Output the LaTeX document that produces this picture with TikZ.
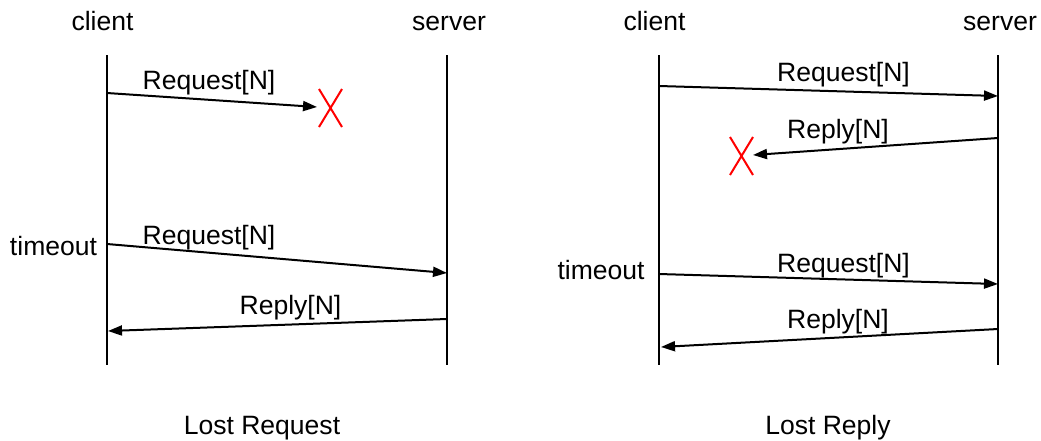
\documentclass[tikz,border=0pt]{standalone}
\usepackage{fontspec}
\setmainfont{Liberation Sans}
\usetikzlibrary{arrows.meta}
\begin{document}
\begin{tikzpicture}[x=0.75pt,y=-0.75pt,
  lbl/.style={inner sep=0pt,anchor=base,font=\fontsize{19.9pt}{24pt}\selectfont},
  life/.style={line width=1.5pt},
  msg/.style={line width=1.5pt,-{Triangle[length=10.5pt,width=7.5pt]}},
  lost/.style={red,line width=1.5pt}]
\useasboundingbox (0,0) rectangle (1041,440);
% ---------- Lost Request ----------
\node[lbl] (lc) at (102.5,30) {client};
\node[lbl] (ls) at (449,30) {server};
\coordinate (lct) at (107,55); \coordinate (lcb) at (107,365);
\coordinate (lst) at (447,55); \coordinate (lsb) at (447,365);
\draw[life] (lct) -- (lcb);
\draw[life] (lst) -- (lsb);
\coordinate (a1s) at (107,93); \coordinate (a1e) at (317,107);
\draw[msg] (a1s) -- (a1e);
\node[lbl] (a1l) at (209,89) {Request[N]};
\coordinate (x1a) at (319,89); \coordinate (x1b) at (342,127);
\coordinate (x1c) at (342,89); \coordinate (x1d) at (319,127);
\draw[lost] (x1a) -- (x1b) (x1c) -- (x1d);
\node[lbl] (lt) at (53.5,255) {timeout};
\coordinate (a2s) at (107,244); \coordinate (a2e) at (447,273);
\draw[msg] (a2s) -- (a2e);
\node[lbl] (a2l) at (209,244) {Request[N]};
\coordinate (a3s) at (447,319); \coordinate (a3e) at (108,331);
\draw[msg] (a3s) -- (a3e);
\node[lbl] (a3l) at (290.5,314) {Reply[N]};
\node[lbl] (lrq) at (262,434.5) {Lost Request};
% ---------- Lost Reply ----------
\node[lbl] (rc) at (654.5,30) {client};
\node[lbl] (rs) at (1000,30) {server};
\coordinate (rct) at (659,55); \coordinate (rcb) at (659,365);
\coordinate (rst) at (998,55); \coordinate (rsb) at (998,365);
\draw[life] (rct) -- (rcb);
\draw[life] (rst) -- (rsb);
\coordinate (b1s) at (659,86); \coordinate (b1e) at (998,96);
\draw[msg] (b1s) -- (b1e);
\node[lbl] (b1l) at (843.5,81) {Request[N]};
\coordinate (b2s) at (998,138); \coordinate (b2e) at (753,155);
\draw[msg] (b2s) -- (b2e);
\node[lbl] (b2l) at (838,138) {Reply[N]};
\coordinate (x2a) at (730,137); \coordinate (x2b) at (753,175);
\coordinate (x2c) at (753,137); \coordinate (x2d) at (730,175);
\draw[lost] (x2a) -- (x2b) (x2c) -- (x2d);
\node[lbl] (rt) at (601,279) {timeout};
\coordinate (b3s) at (659,274); \coordinate (b3e) at (998,284);
\draw[msg] (b3s) -- (b3e);
\node[lbl] (b3l) at (843.5,272) {Request[N]};
\coordinate (b4s) at (998,329); \coordinate (b4e) at (661,347);
\draw[msg] (b4s) -- (b4e);
\node[lbl] (b4l) at (838,328) {Reply[N]};
\node[lbl] (lrp) at (828,434.5) {Lost Reply};
\end{tikzpicture}
\end{document}
